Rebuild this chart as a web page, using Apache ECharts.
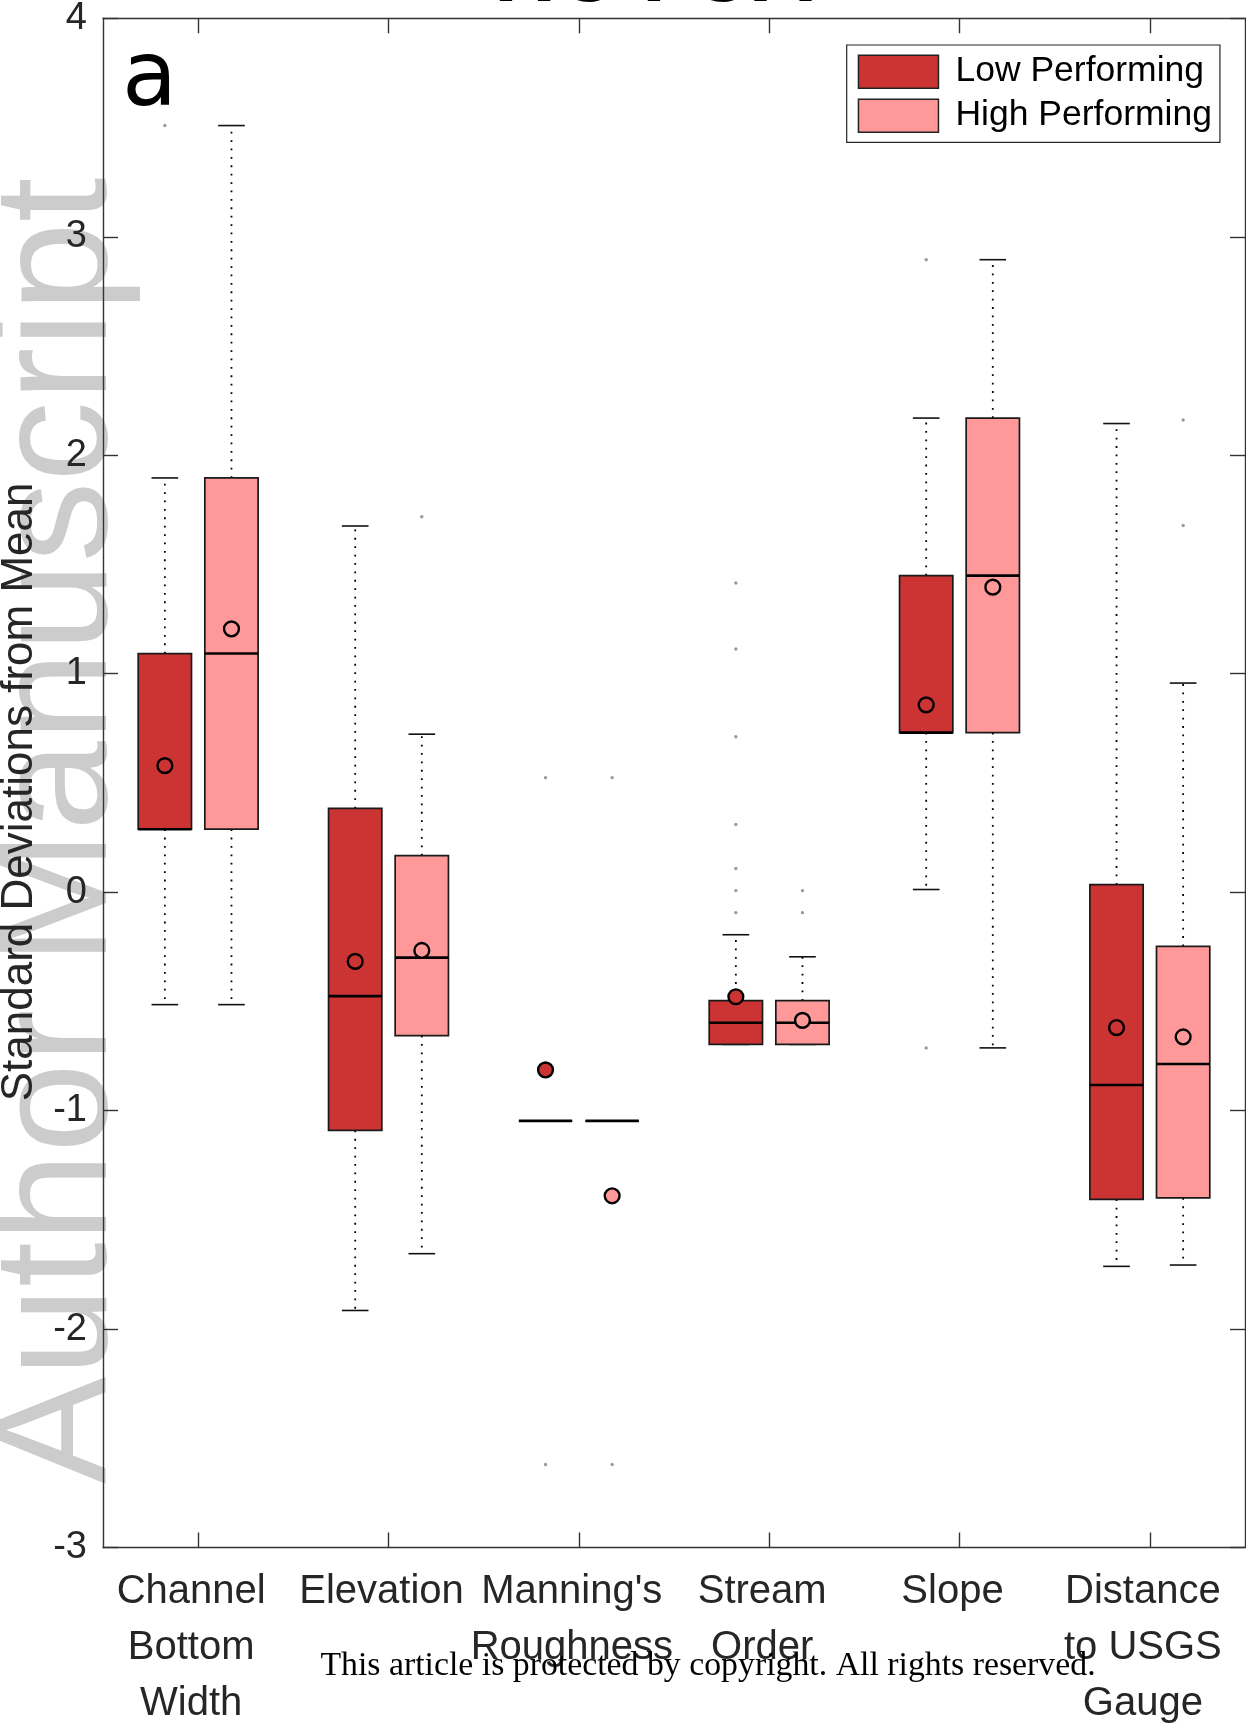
<!DOCTYPE html>
<html>
<head>
<meta charset="utf-8">
<title>Standard Deviations from Mean</title>
<script src="https://cdn.jsdelivr.net/npm/echarts@6/dist/echarts.min.js"></script>
<style>
  html, body { margin: 0; padding: 0; background: #fff; }
  #chart { width: 1246px; height: 1726px; }
</style>
</head>
<body>
<div id="chart"></div>
<script>
// Predictor categories along the x axis
const categories = [
  'Channel\nBottom\nWidth',
  'Elevation',
  "Manning's\nRoughness",
  'Stream\nOrder',
  'Slope',
  'Distance\nto USGS\nGauge'
];

// y-axis ticks
const yMin = -3;
const yMax = 4;
const yStep = 1;

// Box statistics per category: [whisker low, Q1, median, Q3, whisker high]
const lowBoxes = [
  [-0.515, 0.288, 0.288, 1.092, 1.896],
  [-1.915, -1.091, -0.476, 0.383, 1.676],
  [-1.047, -1.047, -1.047, -1.047, -1.047],
  [-0.697, -0.697, -0.598, -0.497, -0.195],
  [0.012, 0.730, 0.730, 1.449, 2.170],
  [-1.713, -1.406, -0.883, 0.034, 2.145]
];
const highBoxes = [
  [-0.515, 0.288, 1.092, 1.896, 3.509],
  [-1.655, -0.657, -0.300, 0.167, 0.723],
  [-1.047, -1.047, -1.047, -1.047, -1.047],
  [-0.697, -0.697, -0.598, -0.497, -0.296],
  [-0.713, 0.730, 1.449, 2.170, 2.895],
  [-1.707, -1.400, -0.787, -0.248, 0.957]
];

// Group means per category
const lowMeans = [0.579, -0.317, -0.814, -0.479, 0.857, -0.620];
const highMeans = [1.205, -0.267, -1.390, -0.587, 1.396, -0.663];

// Outliers: [category index, value]
const lowOutliers = [
  [0, 3.509],
  [2, 0.524], [2, -2.620],
  [3, 1.415], [3, 1.113], [3, 0.711], [3, 0.310], [3, 0.108], [3, 0.007], [3, -0.094],
  [4, 2.895], [4, -0.713]
];
const highOutliers = [
  [1, 1.718],
  [2, 0.524], [2, -2.620],
  [3, 0.007], [3, -0.094],
  [5, 2.161], [5, 1.678]
];

const LOW_COLOR = '#CC3333';
const HIGH_COLOR = '#FF9999';
const FONT = '"Liberation Sans", Arial, Helvetica, sans-serif';

// Box geometry as fractions of one category band
const BOX_OFFSET = 0.175;
const BOX_HALF = 0.14;
const CAP_HALF = 0.07;

function boxData(boxes, means) {
  return boxes.map((b, i) => [i, b[0], b[1], b[2], b[3], b[4], means[i]]);
}

function boxRenderer(side, color) {
  return function (params, api) {
    const cat = api.value(0);
    const band = api.size([1, 0])[0];
    const cx = api.coord([cat, 0])[0] + side * band * BOX_OFFSET;
    const py = (v) => api.coord([cat, v])[1];
    const yLo = py(api.value(1));
    const yQ1 = py(api.value(2));
    const yMed = py(api.value(3));
    const yQ3 = py(api.value(4));
    const yHi = py(api.value(5));
    const yMean = py(api.value(6));
    const hw = band * BOX_HALF;
    const cw = band * CAP_HALF;
    const dotted = { stroke: '#000', lineWidth: 1.8, lineDash: [1.8, 6.6], fill: null };
    const cap = { stroke: '#111', lineWidth: 1.6, fill: null };
    return {
      type: 'group',
      children: [
        { type: 'line', shape: { x1: cx, y1: yQ3, x2: cx, y2: yHi }, style: dotted },
        { type: 'line', shape: { x1: cx, y1: yQ1, x2: cx, y2: yLo }, style: dotted },
        { type: 'line', shape: { x1: cx - cw, y1: yHi, x2: cx + cw, y2: yHi }, style: cap },
        { type: 'line', shape: { x1: cx - cw, y1: yLo, x2: cx + cw, y2: yLo }, style: cap },
        {
          type: 'rect',
          shape: { x: cx - hw, y: yQ3, width: hw * 2, height: yQ1 - yQ3 },
          style: { fill: color, stroke: '#1a1a1a', lineWidth: 1.7 }
        },
        { type: 'line', shape: { x1: cx - hw, y1: yMed, x2: cx + hw, y2: yMed }, style: { stroke: '#000', lineWidth: 2.6 } },
        {
          type: 'circle',
          shape: { cx: cx, cy: yMean, r: 7.4 },
          style: { fill: color, stroke: '#000', lineWidth: 2.4 }
        }
      ]
    };
  };
}

function outlierRenderer(side) {
  return function (params, api) {
    const cat = api.value(0);
    const band = api.size([1, 0])[0];
    const p = api.coord([cat, api.value(1)]);
    return {
      type: 'circle',
      shape: { cx: p[0] + side * band * BOX_OFFSET, cy: p[1], r: 1.7 },
      style: { fill: '#9a9a9a' }
    };
  };
}

const chart = echarts.init(document.getElementById('chart'), null, { renderer: 'canvas' });

const axisLineStyle = { color: '#333333', width: 1.4 };

const option = {
  animation: false,
  backgroundColor: '#ffffff',
  grid: { left: 103, right: 1, top: 18.3, bottom: 178.5, containLabel: false, outerBoundsMode: 'none' },
  legend: {
    orient: 'vertical',
    left: 846.7,
    top: 45,
    padding: [6.7, 8, 6.6, 11],
    itemGap: 4,
    itemWidth: 80,
    itemHeight: 33,
    icon: 'rect',
    selectedMode: false,
    backgroundColor: '#ffffff',
    borderColor: '#262626',
    borderWidth: 1.2,
    borderRadius: 0,
    textStyle: { fontFamily: FONT, fontSize: 35.5, color: '#000', lineHeight: 33, padding: [0, 0, 7, 12] },
    data: [
      { name: 'Low Performing', itemStyle: { color: LOW_COLOR, borderColor: '#222', borderWidth: 1.5 } },
      { name: 'High Performing', itemStyle: { color: HIGH_COLOR, borderColor: '#222', borderWidth: 1.5 } }
    ]
  },
  xAxis: [
    {
      type: 'category',
      data: categories,
      position: 'bottom',
      axisLine: { show: true, onZero: false, lineStyle: axisLineStyle },
      axisTick: { show: true, inside: true, alignWithLabel: true, length: 15, lineStyle: axisLineStyle },
      axisLabel: {
        interval: 0, margin: 16, color: '#262626', fontFamily: FONT, fontSize: 40, lineHeight: 56,
        padding: [0, 14, 0, 0]
      },
      splitLine: { show: false }
    },
    {
      type: 'category',
      data: categories,
      position: 'top',
      axisLine: { show: true, onZero: false, lineStyle: axisLineStyle },
      axisTick: { show: true, inside: true, alignWithLabel: true, length: 15, lineStyle: axisLineStyle },
      axisLabel: { show: false },
      splitLine: { show: false }
    }
  ],
  yAxis: [
    {
      type: 'value',
      min: yMin, max: yMax, interval: yStep,
      position: 'left',
      name: 'Standard Deviations from Mean',
      nameLocation: 'middle',
      nameRotate: 90,
      nameGap: 61,
      nameTextStyle: { fontFamily: FONT, fontSize: 44, color: '#262626', padding: [0, 18, 0, 0] },
      axisLine: { show: true, onZero: false, lineStyle: axisLineStyle },
      axisTick: { show: true, inside: true, length: 15, lineStyle: axisLineStyle },
      axisLabel: { margin: 16, color: '#262626', fontFamily: FONT, fontSize: 38 },
      splitLine: { show: false }
    },
    {
      type: 'value',
      min: yMin, max: yMax, interval: yStep,
      position: 'right',
      axisLine: { show: true, onZero: false, lineStyle: axisLineStyle },
      axisTick: { show: true, inside: true, length: 15, lineStyle: axisLineStyle },
      axisLabel: { show: false },
      splitLine: { show: false }
    }
  ],
  graphic: [
    {
      type: 'text', z: -10, silent: true,
      x: 62, y: 1484, rotation: Math.PI / 2,
      style: { text: 'Author Manuscript', font: '161px "Liberation Sans", Arial, sans-serif', fill: '#cccccc', align: 'left', verticalAlign: 'middle' }
    },
    {
      type: 'text', z: 10, silent: true,
      x: 654, y: 7 - 0.3465 * 86,
      style: { text: 'HC I CA', font: 'bold 86px "Liberation Sans", Arial, sans-serif', fill: '#000', align: 'center', verticalAlign: 'middle' }
    },
    {
      type: 'text', z: 10, silent: true,
      x: 122, y: 82,
      style: { text: 'a', font: '90px "DejaVu Sans", sans-serif', fill: '#000', align: 'left', verticalAlign: 'middle' }
    },
    {
      type: 'text', z: 10, silent: true,
      x: 708, y: 1666,
      style: { text: 'This article is protected by copyright. All rights reserved.', font: '33.8px "Liberation Serif", "DejaVu Serif", serif', fill: '#000', align: 'center', verticalAlign: 'middle' }
    }
  ],
  series: [
    {
      name: 'Low Performing',
      type: 'custom',
      xAxisIndex: 0, yAxisIndex: 0,
      itemStyle: { color: LOW_COLOR },
      renderItem: boxRenderer(-1, LOW_COLOR),
      encode: { x: 0, y: [1, 2, 3, 4, 5, 6] },
      data: boxData(lowBoxes, lowMeans),
      z: 3
    },
    {
      name: 'High Performing',
      type: 'custom',
      xAxisIndex: 0, yAxisIndex: 0,
      itemStyle: { color: HIGH_COLOR },
      renderItem: boxRenderer(1, HIGH_COLOR),
      encode: { x: 0, y: [1, 2, 3, 4, 5, 6] },
      data: boxData(highBoxes, highMeans),
      z: 3
    },
    {
      name: 'Low outliers',
      type: 'custom',
      renderItem: outlierRenderer(-1),
      encode: { x: 0, y: 1 },
      data: lowOutliers,
      z: 2
    },
    {
      name: 'High outliers',
      type: 'custom',
      renderItem: outlierRenderer(1),
      encode: { x: 0, y: 1 },
      data: highOutliers,
      z: 2
    }
  ]
};

chart.setOption(option);
</script>
</body>
</html>
